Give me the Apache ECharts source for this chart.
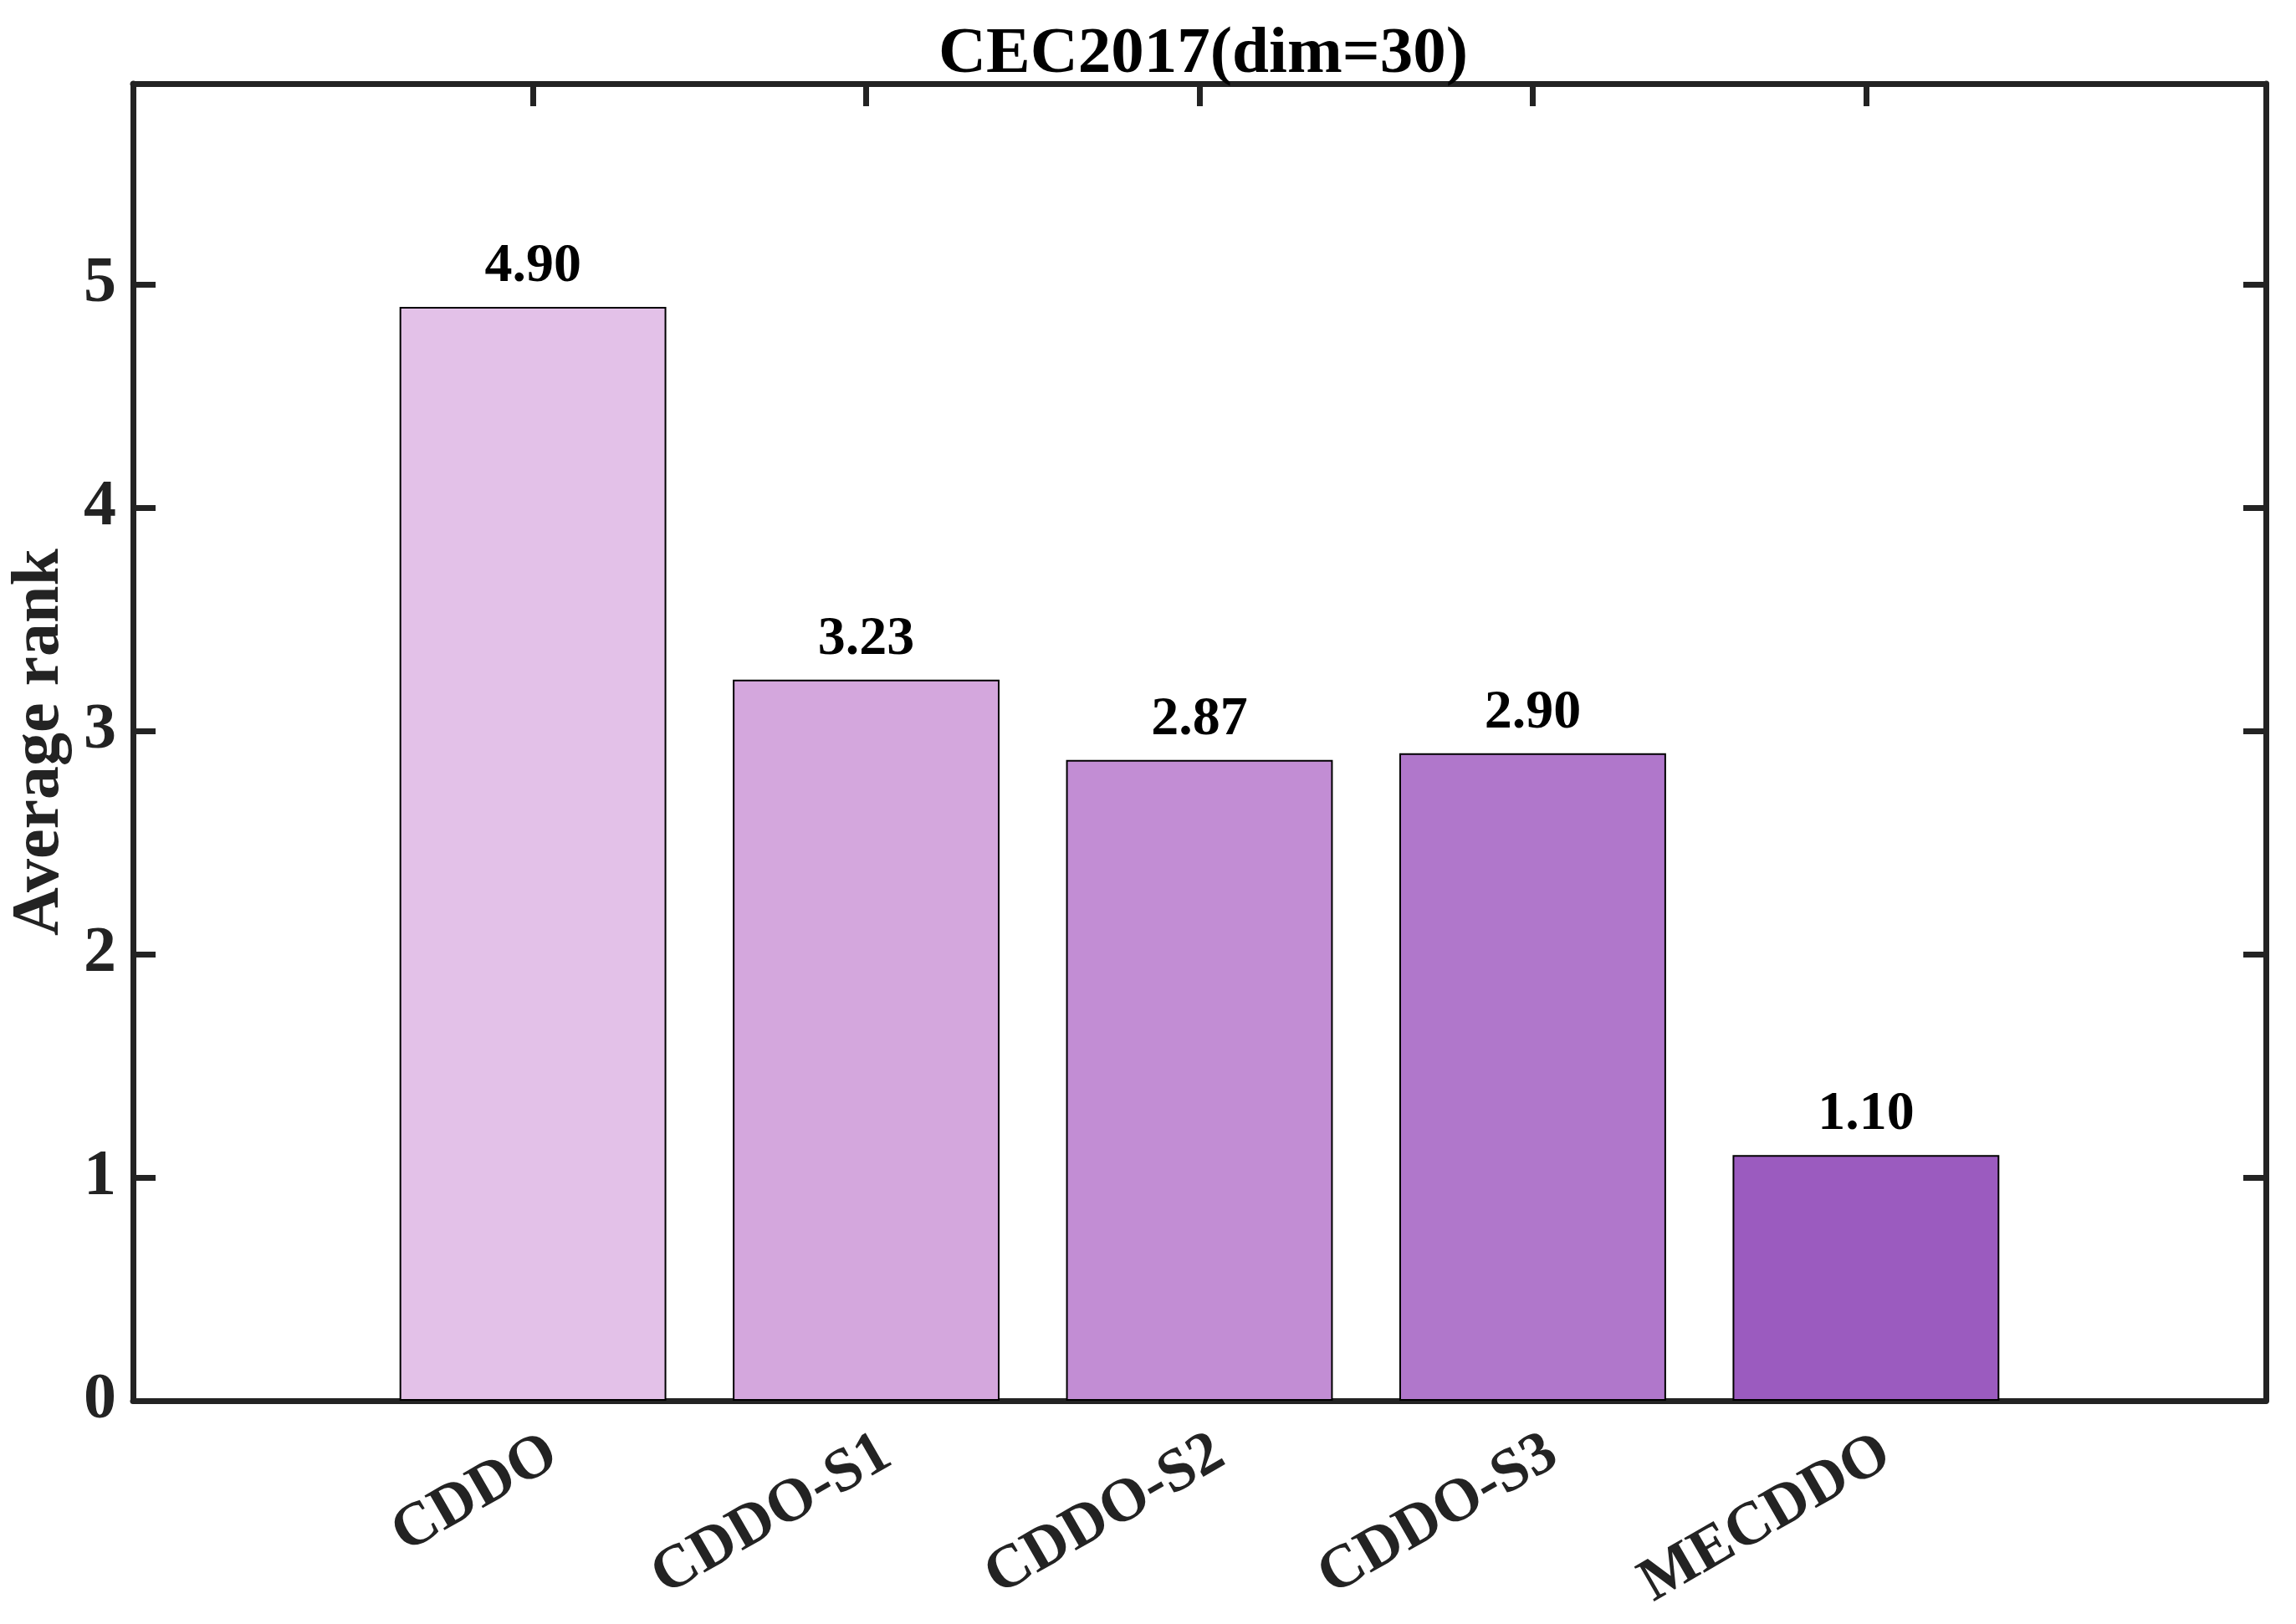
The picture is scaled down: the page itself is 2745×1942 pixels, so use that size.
<!DOCTYPE html>
<html>
<head>
<meta charset="utf-8">
<script src="https://cdn.jsdelivr.net/npm/echarts@6/dist/echarts.min.js"></script>
<style>
  html, body { margin: 0; padding: 0; background: #fff; }
  #main { width: 2745px; height: 1942px; }
</style>
</head>
<body>
<div id="main"></div>
<script>
var categories = ['CDDO', 'CDDO-S1', 'CDDO-S2', 'CDDO-S3', 'MECDDO'];
var avgRank = [4.90, 3.23, 2.87, 2.90, 1.10];
var barColors = ['#e3c1e8', '#d4a7dd', '#c28dd4', '#b077cb', '#9b5bbf'];
var yTicks = [0, 1, 2, 3, 4, 5];
var xPos = [1, 2, 3, 4, 5];

var dom = document.getElementById('main');
var myChart = echarts.init(dom);

var gridLeft = 158, gridRight = 36, gridTop = 100, gridBottom = 267;
var xMin = -0.2, xMax = 6.2;
var plotW = myChart.getWidth() - gridLeft - gridRight;
var barW = 0.8 * plotW / (xMax - xMin);

var font = "'Liberation Serif', 'Times New Roman', serif";
var frame = '#232323';

var lineStyle = { color: frame, width: 7 };
var tickStyle = { color: frame, width: 7 };

var barData = avgRank.map(function (v, i) {
	return {
		value: [xPos[i], v],
		itemStyle: { color: barColors[i] }
	};
});

option = {
	backgroundColor: '#fff',
	animation: false,
	title: {
		text: 'CEC2017(dim=30)',
		left: gridLeft + plotW / 2,
		textAlign: 'center',
		top: 21,
		textStyle: {
			fontFamily: font,
			fontWeight: 'bold',
			fontSize: 79,
			color: '#000'
		}
	},
	grid: {
		left: gridLeft,
		right: gridRight,
		top: gridTop,
		bottom: gridBottom,
		containLabel: false
	},
	xAxis: [{
		type: 'value',
		position: 'bottom',
		min: xMin,
		max: xMax,
		axisLine: { show: true, onZero: false, lineStyle: lineStyle },
		axisTick: { show: false },
		splitLine: { show: false },
		axisLabel: {
			customValues: xPos,
			rotate: 30,
			margin: 72,
			padding: [0, -28, 0, 0],
			fontFamily: font,
			fontWeight: 'bold',
			fontSize: 73,
			color: frame,
			formatter: function (v) {
				return categories[Math.round(v) - 1] || '';
			}
		}
	}, {
		type: 'value',
		position: 'top',
		min: xMin,
		max: xMax,
		axisLine: { show: true, onZero: false, lineStyle: lineStyle },
		axisTick: { show: true, inside: true, length: 27, customValues: xPos, lineStyle: tickStyle },
		axisLabel: { show: false },
		splitLine: { show: false }
	}],
	yAxis: [{
		type: 'value',
		position: 'left',
		min: 0,
		max: 5.9,
		name: 'Average rank',
		nameLocation: 'middle',
		nameGap: 71,
		nameTextStyle: {
			fontFamily: font,
			fontWeight: 'bold',
			fontSize: 80,
			color: frame
		},
		axisLine: { show: true, onZero: false, lineStyle: lineStyle },
		axisTick: { show: true, inside: true, length: 27, customValues: yTicks, lineStyle: tickStyle },
		splitLine: { show: false },
		axisLabel: {
			customValues: yTicks,
			margin: 20,
			fontFamily: font,
			fontWeight: 'bold',
			fontSize: 78,
			color: frame
		}
	}, {
		type: 'value',
		position: 'right',
		min: 0,
		max: 5.9,
		axisLine: { show: true, onZero: false, lineStyle: lineStyle },
		axisTick: { show: true, inside: true, length: 27, customValues: yTicks, lineStyle: tickStyle },
		axisLabel: { show: false },
		splitLine: { show: false }
	}],
	series: [{
		name: 'Average rank',
		type: 'bar',
		xAxisIndex: 0,
		yAxisIndex: 0,
		barWidth: barW,
		data: barData,
		itemStyle: {
			borderColor: '#000',
			borderWidth: 2
		},
		label: {
			show: true,
			position: 'top',
			distance: 15,
			fontFamily: font,
			fontWeight: 'bold',
			fontSize: 66,
			color: '#000',
			formatter: function (p) {
				return p.value[1].toFixed(2);
			}
		}
	}]
};

if (option && typeof option === 'object') {
	myChart.setOption(option, true);
}
</script>
</body>
</html>
